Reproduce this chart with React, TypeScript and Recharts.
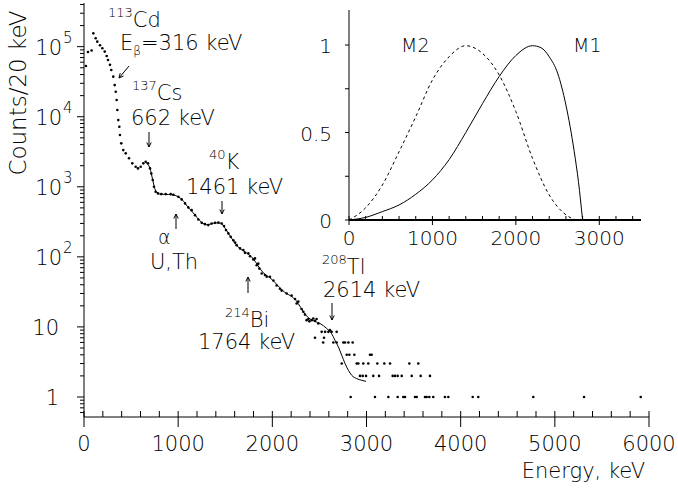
import { ComposedChart, LineChart, Line, Scatter, XAxis, YAxis } from 'recharts';

// measured spectrum, counts per 20 keV bin
const specEnergy = [
  21, 42, 81, 99, 124, 141, 170, 195, 220, 241, 255, 276, 290, 311, 326, 337, 347, 354, 364, 375,
  382, 396, 417, 443, 478, 513, 549, 573, 602, 630, 655, 680, 701, 715, 730, 743, 761, 786, 821, 868,
  920, 949, 1002, 1037, 1073, 1108, 1143, 1179, 1214, 1250, 1285, 1320, 1356, 1391, 1427, 1462, 1487, 1508, 1533, 1558,
  1586, 1604, 1621, 1657, 1692, 1710, 1745, 1763, 1798, 1816, 1834, 1851, 1862, 1887, 1922, 1940, 1975, 2011, 2046, 2081,
  2099, 2152, 2205, 2241, 2258, 2276, 2311, 2329, 2347, 2364, 2382, 2393, 2418, 2435, 2453, 2470, 2488,
  2524, 2560, 2595, 2630, 2683, 2612, 2453, 2549, 2540, 2648, 2683, 2754, 2772, 2808, 2853,
  2790, 2818, 2871, 3037, 3055,
  2737, 2896, 2913, 2966, 3019, 3115, 3189, 3250, 3455, 3550,
  2931, 2960, 2995, 3072, 3133, 3278, 3302, 3331, 3374, 3480, 3575, 3674,
  2832, 3090, 3232, 3331, 3391, 3409, 3515, 3533, 3621, 3639, 3667, 3709, 3833, 3869, 4128, 4187, 4771, 5310, 5912,
];
const specCounts = [
  53000, 84000, 88000, 155000, 132000, 118000, 105000, 95000, 85000, 73600, 64500, 55000, 46500, 37300, 28300, 22700, 17300, 12500, 8950, 7200,
  5480, 4170, 3340, 3000, 2550, 2160, 1930, 1830, 1930, 2160, 2280, 2160, 1830, 1550, 1250, 1000, 850, 805, 787, 787,
  787, 769, 720, 661, 579, 508, 464, 394, 342, 306, 293, 284, 300, 306, 310, 300, 275, 241, 216, 193,
  173, 160, 147, 132, 125, 114, 112, 102, 92, 95, 76, 80, 68, 58, 55, 52, 52, 46, 39, 35,
  33, 30, 28, 25, 21.6, 23, 18, 16.4, 15, 12.5, 13, 12, 12.5, 13.2, 12.2, 13, 11.2,
  8.5, 8.5, 8.5, 8.5, 8.5, 9, 7, 7, 6, 6, 6, 6, 6, 6, 6,
  4, 4, 4, 4, 4,
  3, 3, 3, 3, 3, 3, 3, 3, 3, 3,
  2, 2, 2, 2, 2, 2, 2, 2, 2, 2, 2, 2,
  1, 1, 1, 1, 1, 1, 1, 1, 1, 1, 1, 1, 1, 1, 1, 1, 1, 1, 1,
];

// fitted model (solid line)
const fitEnergy = [
  660, 700, 730, 760, 800, 850, 900, 950, 1000, 1050, 1100, 1150, 1200, 1250, 1300, 1350, 1400, 1450, 1500, 1550,
  1600, 1650, 1700, 1750, 1800, 1850, 1900, 1950, 2000, 2050, 2100, 2150, 2200, 2250, 2300, 2350, 2400, 2450, 2506, 2577,
  2630, 2665, 2701, 2737, 2772, 2808, 2843, 2896, 2949, 2995,
];
const fitCounts = [
  2200, 1850, 1250, 880, 790, 780, 775, 765, 720, 640, 520, 440, 365, 310, 288, 295, 305, 302, 255, 200,
  160, 133, 120, 108, 93, 74, 60, 53, 47, 40, 34, 30, 27.5, 24, 19, 15, 13, 12, 11.2, 9.5,
  8.0, 6.45, 5.2, 3.94, 3.0, 2.4, 2.04, 1.83, 1.73, 1.67,
];

// inset: shapes of the two spectra
const m1Energy = [0, 200, 400, 600, 800, 1000, 1200, 1400, 1600, 1800, 2000, 2200, 2300, 2400, 2500, 2600, 2700, 2750, 2800];
const m1Values = [0, 0.015, 0.048, 0.086, 0.147, 0.229, 0.345, 0.5, 0.665, 0.82, 0.94, 0.996, 0.985, 0.933, 0.84, 0.657, 0.39, 0.22, 0];
const m2Energy = [0, 200, 400, 600, 800, 1000, 1200, 1400, 1600, 1800, 2000, 2200, 2400, 2600, 2700, 2750];
const m2Values = [0, 0.07, 0.2, 0.39, 0.59, 0.8, 0.933, 0.996, 0.952, 0.829, 0.62, 0.352, 0.143, 0.03, 0.004, 0];

const xTicks = Array.from({ length: 31 }, (_, i) => i * 200);
const insetXTicks = Array.from({ length: 18 }, (_, i) => i * 200);
const insetYTicks = [0, 0.25, 0.5, 0.75, 1];
const insetYLabels = [0, 0.5, 1];
const yTicks: number[] = [];
for (let k = -1; k <= 5; k++) {
  for (let m = 1; m <= 9; m++) {
    const v = m * Math.pow(10, k);
    if (v >= 0.55 && v <= 420000) yTicks.push(Number(v.toPrecision(3)));
  }
}

const specData = specEnergy.map((e, i) => ({ e, c: specCounts[i] }));
const fitData = fitEnergy.map((e, i) => ({ e, c: fitCounts[i] }));
const m1Data = m1Energy.map((e, i) => ({ e, v: m1Values[i] }));
const m2Data = m2Energy.map((e, i) => ({ e, v: m2Values[i] }));

const FONT = "'DejaVu Sans', sans-serif";
const W = 200;

function XTick(props: any) {
  const { x, y, payload } = props;
  const v = payload.value;
  const major = v % 1000 === 0;
  return (
    <g>
      <line x1={x} x2={x} y1={y - 6} y2={major ? y + 10 : y} stroke="#000" />
      {major && (
        <text x={x} y={y + 34} textAnchor="middle" fontSize={21} fontFamily={FONT} fontWeight={W} fill="#000">
          {v}
        </text>
      )}
    </g>
  );
}

function YTick(props: any) {
  const { x, y, payload } = props;
  const v = payload.value;
  const exp = Math.round(Math.log10(v));
  const major = Math.abs(v - Math.pow(10, exp)) < 1e-6 * v;
  return (
    <g>
      <line x1={major ? x - 7 : x - 4} x2={x} y1={y} y2={y} stroke="#000" />
      {major && exp < 2 && (
        <text x={x - 25} y={y + 8} textAnchor="end" fontSize={21} fontFamily={FONT} fontWeight={W} fill="#000">
          {v}
        </text>
      )}
      {major && exp >= 2 && (
        <g>
          <text x={x - 22} y={y + 8} textAnchor="end" fontSize={21} fontFamily={FONT} fontWeight={W} fill="#000">
            10
          </text>
          <text x={x - 21} y={y - 4} fontSize={15} fontFamily={FONT} fontWeight={W} fill="#000">
            {exp}
          </text>
        </g>
      )}
    </g>
  );
}

function InsetXTick(props: any) {
  const { x, y, payload } = props;
  const v = payload.value;
  const major = v % 1000 === 0;
  return (
    <g>
      <line x1={x} x2={x} y1={y - 4} y2={major ? y + 5 : y} stroke="#000" />
      {major && (
        <text x={x} y={y + 25} textAnchor="middle" fontSize={20} fontFamily={FONT} fontWeight={W} fill="#000">
          {v}
        </text>
      )}
    </g>
  );
}

function InsetYTick(props: any) {
  const { x, y, payload } = props;
  const v = payload.value;
  return (
    <g>
      <line x1={x - 4} x2={x} y1={y} y2={y} stroke="#000" />
      {insetYLabels.includes(v) && (
        <text x={x - 17} y={y + 8} textAnchor="end" fontSize={20} fontFamily={FONT} fontWeight={W} fill="#000">
          {v}
        </text>
      )}
    </g>
  );
}

const dot = (p: any) => <circle cx={p.cx} cy={p.cy} r={1.3} fill="#000" />;

function Arrow({ x1, y1, x2, y2 }: { x1: number; y1: number; x2: number; y2: number }) {
  const a = Math.atan2(y2 - y1, x2 - x1);
  const h = 5;
  const l = [a + Math.PI - 0.45, a + Math.PI + 0.45].map((t) => [x2 + h * Math.cos(t), y2 + h * Math.sin(t)]);
  return (
    <g stroke="#000" strokeWidth={1} fill="none">
      <line x1={x1} y1={y1} x2={x2} y2={y2} />
      <polyline points={`${l[0][0]},${l[0][1]} ${x2},${y2} ${l[1][0]},${l[1][1]}`} />
    </g>
  );
}

function Notes() {
  const t = { fontFamily: FONT, fontWeight: W, fill: '#000', fontSize: 21 } as const;
  return (
    <svg width={678} height={488} style={{ position: 'absolute', left: 0, top: 0, pointerEvents: 'none' }}>
      <text x={108} y={27} {...t}>
        <tspan fontSize={13} dy={-10}>113</tspan>
        <tspan dy={10}>Cd</tspan>
      </text>
      <text x={120} y={50} {...t}>
        E<tspan fontSize={12} dy={5}>β</tspan>
        <tspan dy={-5}>=316 keV</tspan>
      </text>
      <Arrow x1={129} y1={66} x2={119} y2={78} />
      <text x={132} y={100} {...t}>
        <tspan fontSize={13} dy={-10}>137</tspan>
        <tspan dy={10}>Cs</tspan>
      </text>
      <text x={131} y={125} {...t}>662 keV</text>
      <Arrow x1={149} y1={132} x2={149} y2={147} />
      <text x={209} y={169} {...t}>
        <tspan fontSize={13} dy={-10}>40</tspan>
        <tspan dy={10}>K</tspan>
      </text>
      <text x={186} y={194} {...t}>1461 keV</text>
      <Arrow x1={222} y1={201} x2={222} y2={214} />
      <Arrow x1={176} y1={229} x2={176} y2={214} />
      <text x={158} y={244} {...t} fontSize={19}>α</text>
      <text x={150} y={269} {...t}>U,Th</text>
      <Arrow x1={248} y1={293} x2={248} y2={277} />
      <text x={225} y={327} {...t}>
        <tspan fontSize={13} dy={-10}>214</tspan>
        <tspan dy={10}>Bi</tspan>
      </text>
      <text x={198} y={349} {...t}>1764 keV</text>
      <text x={322} y={274} {...t}>
        <tspan fontSize={13} dy={-10}>208</tspan>
        <tspan dy={10}>Tl</tspan>
      </text>
      <text x={323} y={297} {...t}>2614 keV</text>
      <Arrow x1={332} y1={303} x2={332} y2={320} />
      <text transform="translate(26,93) rotate(-90)" textAnchor="middle" {...t} fontSize={23}>Counts/20 keV</text>
      <text x={645} y={478} textAnchor="end" {...t}>Energy, keV</text>
      <text x={401} y={52} {...t} fontSize={19}>M2</text>
      <text x={573} y={52} {...t} fontSize={19}>M1</text>
    </svg>
  );
}

export default function App() {
  return (
    <div style={{ position: 'absolute', left: 0, top: 0, width: 678, height: 488, background: '#fff' }}>
      <ComposedChart width={678} height={488} margin={{ top: 3, right: 29, bottom: 31, left: 0 }} style={{ position: 'absolute', left: 0, top: 0 }}>
        <XAxis
          xAxisId="b"
          dataKey="e"
          type="number"
          domain={[0, 6000]}
          ticks={xTicks}
          interval={0}
          tickSize={0}
          tickMargin={0}
          tick={<XTick />}
          height={40}
          axisLine={{ stroke: '#000' }}
          allowDataOverflow
        />
        <XAxis xAxisId="t" orientation="top" type="number" domain={[0, 6000]} height={0} tick={false} tickLine={false} axisLine={{ stroke: '#000' }} />
        <YAxis
          yAxisId="l"
          dataKey="c"
          type="number"
          scale="log"
          domain={[0.518, 420000]}
          allowDataOverflow
          ticks={yTicks}
          interval={0}
          tickSize={0}
          tickMargin={0}
          tick={<YTick />}
          width={84}
          axisLine={{ stroke: '#000' }}
        />
        <YAxis yAxisId="r" orientation="right" width={0} tick={false} tickLine={false} axisLine={{ stroke: '#000' }} />
        <Scatter xAxisId="b" yAxisId="l" data={specData} dataKey="c" shape={dot} isAnimationActive={false} />
        <Line xAxisId="b" yAxisId="l" data={fitData} dataKey="c" type="monotone" dot={false} stroke="#000" strokeWidth={1} isAnimationActive={false} />
      </ComposedChart>
      <div style={{ position: 'absolute', left: 290, top: 0 }}>
        <LineChart width={360} height={260} margin={{ top: 10, right: 9, bottom: 10, left: 0 }}>
          <XAxis
            xAxisId="b"
            dataKey="e"
            type="number"
            domain={[0, 3500]}
            ticks={insetXTicks}
            interval={0}
            tickSize={0}
            tickMargin={0}
            tick={<InsetXTick />}
            height={30}
            axisLine={{ stroke: '#000', strokeWidth: 2 }}
          />
          <XAxis xAxisId="t" orientation="top" type="number" domain={[0, 3500]} height={0} tick={false} tickLine={false} axisLine={{ stroke: '#000' }} />
          <YAxis
            yAxisId="l"
            type="number"
            domain={[0, 1.2]}
            ticks={insetYTicks}
            interval={0}
            tickSize={0}
            tickMargin={0}
            tick={<InsetYTick />}
            width={59}
            axisLine={{ stroke: '#000' }}
          />
          <YAxis yAxisId="r" orientation="right" width={0} tick={false} tickLine={false} axisLine={{ stroke: '#000' }} />
          <Line xAxisId="b" yAxisId="l" data={m1Data} dataKey="v" type="monotone" dot={false} stroke="#000" strokeWidth={1} isAnimationActive={false} />
          <Line xAxisId="b" yAxisId="l" data={m2Data} dataKey="v" type="monotone" dot={false} stroke="#000" strokeWidth={1} strokeDasharray="3 3" isAnimationActive={false} />
        </LineChart>
      </div>
      <Notes />
    </div>
  );
}
